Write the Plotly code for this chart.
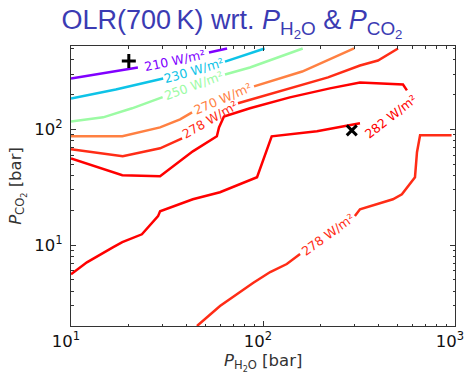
import numpy as np
import plotly.graph_objects as go

# ---------------- data ----------------
# contour levels (W/m^2)
levels = [210, 230, 250, 270, 278, 282, 278]

# P_H2O [bar] / P_CO2 [bar] along each contour; None = gap where the inline label sits
h2o_210 = [10, 22.3, None, 52.3, 65]
co2_210 = [275, 342, None, 461, 500]

h2o_230 = [10, 17.1, 30.2, None, 63.4, 102]
co2_230 = [185, 221, 275, None, 385, 500]

h2o_250 = [10, 14.7, 20.8, 30.0, None, 63.4, 85.5, 161]
co2_250 = [117, 127, 152, 190, None, 298, 342, 500]

h2o_270 = [10, 18.5, 29.1, 37.0, 42.7, None, 89.8, 160, 298]
co2_270 = [87.1, 87.1, 104, 122, 140, None, 235, 316, 500]

h2o_278a = [10, 18.6, 29.1, 37.9, None, 74.1, 133, 218, 320, 397, 505]
co2_278a = [67.3, 58.5, 68.6, 83.6, None, 168, 221, 281, 356, 393, 500]

h2o_282 = [10, 18.5, 29.1, 43.1, 57.5, 59.0, 62.6, 85.5, 138, 223, 320, 536, 562, None,
           320, 191, 111, 93.1, 59.7, 43.1, 29.1, 28.4, 23.4, 18.5, 16.6, 12.1, 10]
co2_282 = [56.2, 40.1, 39.4, 64.6, 87.1, 104, 129, 152, 189, 226, 254, 244, 217, None,
           113, 96.1, 87.1, 38.6, 28.6, 24.9, 19.6, 17.8, 12.4, 10.6, 9.6, 7.1, 5.6]

h2o_278b = [960, 658, 634, 619, 529, 475, 320, 301, None, 156, 133, 109, 88.7, 59.7, 45.3]
co2_278b = [88.8, 88.8, 63.4, 38.6, 27.5, 24.9, 20.4, 17.8, None, 8.36, 6.86, 5.85, 4.70, 2.98, 2.0]

# marked points
plus_h2o, plus_co2 = [20], [390]
cross_h2o, cross_co2 = [290], [98]

# contour-label anchor points (P_H2O, P_CO2)
label_h2o = [34.8, 43.7, 43.7, 61.9, 53.0, 464, 218]
label_co2 = [393, 323, 239, 185, 122, 129, 12.4]

x_tickvals = [10, 100, 1000]
x_ticktext = ["10<sup>1</sup>", "10<sup>2</sup>", "10<sup>3</sup>"]
y_tickvals = [10, 100]
y_ticktext = ["10<sup>1</sup>", "10<sup>2</sup>"]

# ---------------- styling ----------------
colors = ["#8000ff", "#0ec3e7", "#9cfba4", "#ff8042", "#ff2c16", "#ff0000", "#ff2c16"]
label_angles = [-12, -16, -20, -23, -30, -38, -36]

series = [
    (h2o_210, co2_210), (h2o_230, co2_230), (h2o_250, co2_250), (h2o_270, co2_270),
    (h2o_278a, co2_278a), (h2o_282, co2_282), (h2o_278b, co2_278b),
]

fig = go.Figure()
for (xs, ys), c in zip(series, colors):
    fig.add_trace(go.Scatter(x=xs, y=ys, mode="lines", connectgaps=False,
                             line=dict(color=c, width=2.5), hoverinfo="skip",
                             showlegend=False))

fig.add_trace(go.Scatter(x=plus_h2o, y=plus_co2, mode="markers", showlegend=False,
                         marker=dict(symbol="cross-thin", size=10,
                                     line=dict(color="black", width=3))))
fig.add_trace(go.Scatter(x=cross_h2o, y=cross_co2, mode="markers", showlegend=False,
                         marker=dict(symbol="x-thin", size=10,
                                     line=dict(color="black", width=3))))

for lv, lx, ly, c, ang in zip(levels, label_h2o, label_co2, colors, label_angles):
    fig.add_annotation(x=np.log10(lx), y=np.log10(ly), xref="x", yref="y",
                       text=f"{lv} W/m²", showarrow=False, textangle=ang,
                       font=dict(family="DejaVu Sans", size=12.5, color=c),
                       xanchor="center", yanchor="middle")

axis_common = dict(
    type="log", showline=True, linecolor="#333", linewidth=1, mirror="ticks",
    ticks="inside", ticklen=5, tickwidth=1, tickcolor="#333", showgrid=False,
    zeroline=False, tickmode="array", ticklabeloverflow="allow", automargin=False,
    tickfont=dict(family="DejaVu Sans", size=16.5, color="#111"),
)

x_minor = [v * m for m in (10, 100) for v in range(2, 10)]
y_minor = [2, 3, 4, 5, 6, 7, 8, 9, 20, 30, 40, 50, 60, 70, 80, 90, 200, 300, 400, 500]

fig.update_xaxes(**axis_common, range=[0.9999, 3.0001], tickvals=x_tickvals,
                 ticktext=x_ticktext, ticklabelshift=-5,
                 minor=dict(ticks="inside", ticklen=2.5, tickwidth=1, tickcolor="#333",
                            tickmode="array", tickvals=x_minor))
fig.update_yaxes(**axis_common, range=[np.log10(2), np.log10(525)], tickvals=y_tickvals,
                 ticktext=y_ticktext, ticklabelstandoff=4,
                 minor=dict(ticks="inside", ticklen=2.5, tickwidth=1, tickcolor="#333",
                            tickmode="array", tickvals=y_minor))

# axis titles
fig.add_annotation(x=0.5, y=-0.082, xref="paper", yref="paper", showarrow=False,
                   text="<i>P</i><sub>H<sub>2</sub>O</sub> [bar]",
                   font=dict(family="DejaVu Sans", size=16.5, color="#333"),
                   xanchor="center", yanchor="top")
fig.add_annotation(x=-0.141, y=0.5, xref="paper", yref="paper", showarrow=False,
                   text="<i>P</i><sub>CO<sub>2</sub></sub> [bar]", textangle=-90,
                   font=dict(family="DejaVu Sans", size=16.5, color="#333"),
                   xanchor="center", yanchor="middle")

fig.update_layout(
    width=464, height=374,
    margin=dict(l=71, r=9, t=46, b=48, autoexpand=False),
    paper_bgcolor="white", plot_bgcolor="white",
    title=dict(text="OLR(700\u2009K) wrt. <i>P</i><sub>H<sub>2</sub>O</sub> &amp; <i>P</i><sub>CO<sub>2</sub></sub>",
               x=0.5, xref="container", xanchor="center",
               y=1 - 20 / 374, yref="container", yanchor="middle",
               font=dict(family="Liberation Sans", size=27, color="#3b3bb3")),
)

fig.write_html("out.html")
